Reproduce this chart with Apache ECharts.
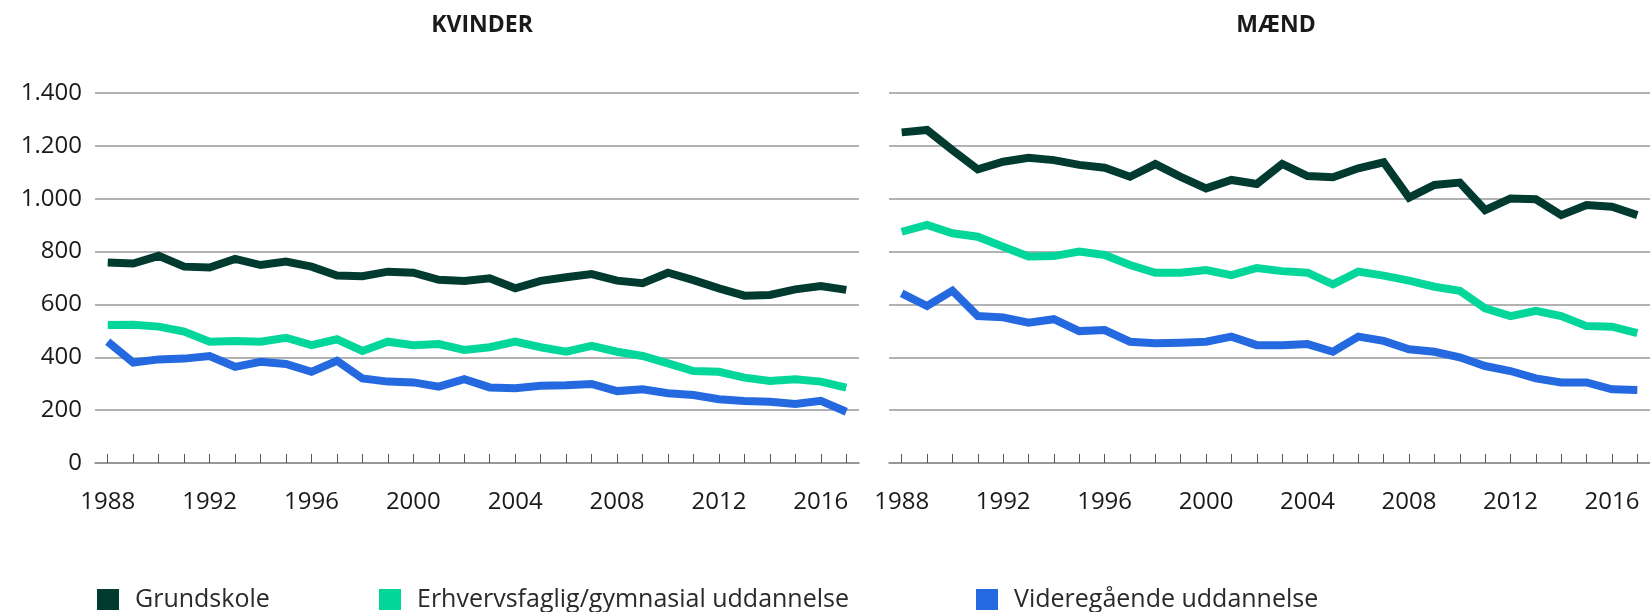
<!DOCTYPE html>
<html>
<head>
<meta charset="utf-8">
<script src="https://cdn.jsdelivr.net/npm/echarts@6/dist/echarts.min.js"></script>
<style>
html,body{margin:0;padding:0;background:#fff;}
#chart{width:1650px;height:612px;}
</style>
</head>
<body>
<div id="chart"></div>
<script>
const years = ['1988','1989','1990','1991','1992','1993','1994','1995','1996','1997','1998','1999','2000','2001','2002','2003','2004','2005','2006','2007','2008','2009','2010','2011','2012','2013','2014','2015','2016','2017'];
const seriesNames = ['Grundskole', 'Erhvervsfaglig/gymnasial uddannelse', 'Videregående uddannelse'];
const panelTitles = ['KVINDER', 'MÆND'];
const yTicks = [0, 200, 400, 600, 800, 1000, 1200, 1400];

// KVINDER
const kvinderGrundskole = [759,755,784,743,740,772,749,762,743,709,707,724,720,693,689,699,661,689,703,715,690,680,720,692,661,633,636,657,670,655];
const kvinderErhverv = [522,523,516,497,459,462,459,474,446,468,424,459,446,450,428,438,459,438,421,443,421,405,377,348,345,323,310,317,308,285];
const kvinderVideregaaende = [459,380,392,395,405,364,383,375,345,387,320,308,305,289,317,286,283,292,294,299,272,279,264,257,241,235,232,223,235,194];

// MÆND
const maendGrundskole = [1251,1260,1184,1111,1140,1155,1146,1128,1117,1083,1131,1083,1039,1071,1056,1132,1086,1081,1115,1138,1004,1052,1061,957,1001,998,938,976,970,938];
const maendErhverv = [875,901,869,856,818,781,783,800,787,749,720,720,730,711,738,726,720,676,724,709,690,667,652,585,556,576,556,518,516,491];
const maendVideregaaende = [642,594,652,556,551,531,544,499,503,459,453,455,459,478,446,446,450,421,478,462,430,421,400,367,348,320,305,305,279,276];

const colors = ['#013b30', '#03d69a', '#2469e0'];
const FONT = '"Open Sans", sans-serif';

const chart = echarts.init(document.getElementById('chart'), null, {renderer: 'canvas'});

const grids = [
  {left: 95, top: 93, width: 764, height: 370},
  {left: 889, top: 93, width: 764, height: 370}
];

function xAxis(idx) {
  return {
    type: 'category', gridIndex: idx, data: years, boundaryGap: true,
    axisLine: {lineStyle: {color: '#8f8f8f', width: 1.5}},
    axisTick: {show: true, inside: true, length: 9, interval: 0, alignWithLabel: true, lineStyle: {color: '#555', width: 1}},
    axisLabel: {interval: 3, margin: 27, color: '#1a1a1a', fontFamily: FONT, fontSize: 24},
    splitLine: {show: false}
  };
}
function yAxis(idx, showLabels) {
  return {
    type: 'value', gridIndex: idx, min: yTicks[0], max: yTicks[yTicks.length - 1], interval: 200,
    axisLine: {show: false}, axisTick: {show: false},
    axisLabel: {show: showLabels, margin: 13, color: '#1a1a1a', fontFamily: FONT, fontSize: 24,
      formatter: v => String(v).replace(/\B(?=(\d{3})+(?!\d))/g, '.')},
    splitLine: {lineStyle: {color: '#999', width: 1.5}}
  };
}

const panelData = [
  [kvinderGrundskole, kvinderErhverv, kvinderVideregaaende],
  [maendGrundskole, maendErhverv, maendVideregaaende]
];

const series = [];
panelData.forEach((set, p) => {
  set.forEach((vals, s) => {
    series.push({
      name: seriesNames[s], type: 'line', xAxisIndex: p, yAxisIndex: p,
      data: vals, symbol: 'none', smooth: false,
      lineStyle: {color: colors[s], width: 8, join: 'miter'},
      itemStyle: {color: colors[s]},
      z: 3 - s
    });
  });
});

const legendLefts = [92, 374, 971];
const legends = seriesNames.map((n, i) => ({
  data: [n], left: legendLefts[i], top: 582, icon: 'rect', itemWidth: 22, itemHeight: 21,
  selectedMode: false,
  textStyle: {fontFamily: FONT, fontSize: 25, color: '#2a2a2a', padding: [0, 0, 0, 11]}
}));

chart.setOption({
  animation: false,
  backgroundColor: '#fff',
  title: panelTitles.map((t, i) => ({
    text: t, left: grids[i].left + grids[i].width / 2, top: 9, textAlign: 'center',
    textStyle: {fontFamily: FONT, fontWeight: 'bold', fontSize: 23, color: '#1a1a1a'}
  })),
  grid: grids,
  xAxis: [xAxis(0), xAxis(1)],
  yAxis: [yAxis(0, true), yAxis(1, false)],
  legend: legends,
  series: series
});
</script>
</body>
</html>
